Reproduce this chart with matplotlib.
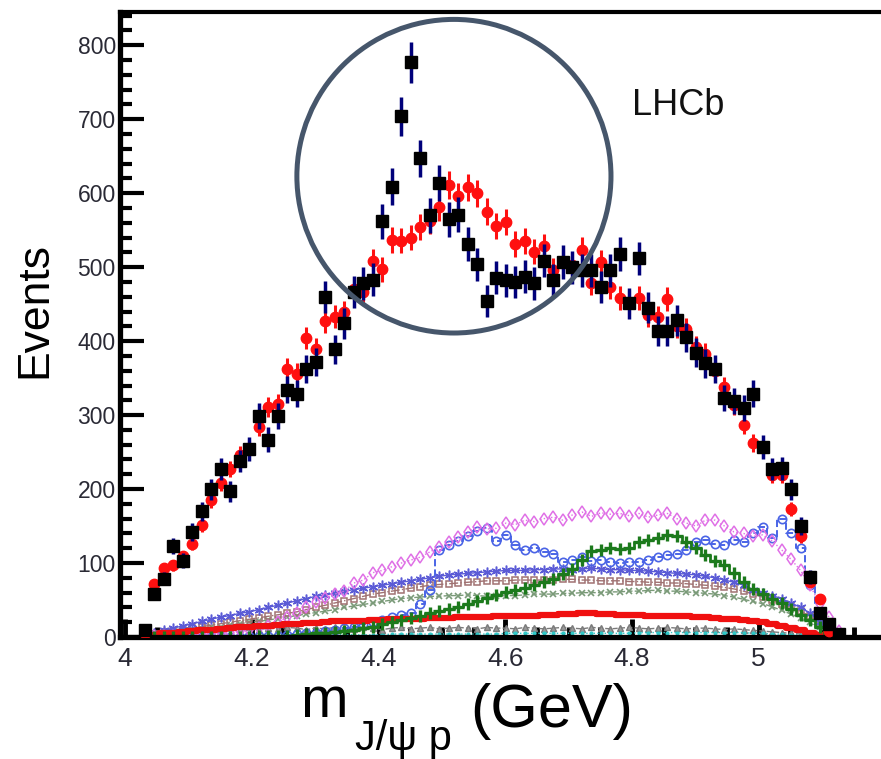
import numpy as np
import matplotlib.pyplot as plt
from matplotlib.patches import Ellipse
from matplotlib.ticker import MultipleLocator

plt.rcParams['font.family'] = ['Liberation Sans', 'DejaVu Sans']

# bin centres, 15 MeV bins
mass = np.round(4.031 + 0.015 * np.arange(74), 3)

# data (black squares)
data = [9, 58, 79, 123, 103, 142, 170, 200, 227, 197,
        238, 254, 299, 267, 299, 334, 329, 362, 372, 460,
        389, 424, 467, 478, 483, 562, 609, 704, 777, 647,
        570, 614, 565, 571, 531, 504, 454, 486, 482, 480,
        487, 478, 509, 482, 507, 500, 496, 496, 473, 496,
        518, 451, 512, 445, 414, 414, 428, 405, 384, 370,
        362, 323, 319, 310, 329, 257, 227, 228, 200, 150,
        81, 33, 18, 4]

# fit without pentaquarks (red points)
fit = [5, 72, 93, 97, 109, 126, 151, 185, 208, 227,
       246, 255, 284, 311, 315, 363, 356, 404, 389, 427,
       433, 439, 471, 467, 508, 497, 537, 536, 540, 554,
       563, 581, 611, 596, 608, 600, 575, 556, 561, 531,
       535, 521, 528, 496, 505, 503, 523, 479, 507, 473,
       458, 452, 458, 435, 432, 457, 420, 416, 392, 383,
       360, 338, 313, 287, 262, 255, 219, 219, 173, 136,
       75, 51, 8, 0]

# fit components
comp_diamond = [0, 1, 1, 2, 2, 3, 3, 4, 5, 6,
                8, 10, 12, 15, 20, 27, 33, 40, 47, 53,
                58, 62, 73, 77, 87, 90, 95, 100, 104, 108,
                115, 122, 128, 135, 142, 149, 146, 147, 154, 152,
                158, 156, 160, 162, 158, 165, 169, 163, 168, 166,
                167, 164, 167, 162, 165, 167, 160, 154, 150, 158,
                158, 150, 142, 140, 136, 138, 130, 118, 105, 90,
                70, 45, 27, 8]
comp_circle = [0, 0, 0, 0, 0, 0, 0, 0, 0, 0,
               0, 1, 1, 2, 2, 3, 4, 5, 6, 8,
               10, 12, 14, 17, 20, 23, 27, 30, 33, 44,
               63, 118, 124, 130, 137, 143, 148, 130, 138, 125,
               118, 120, 115, 112, 101, 104, 108, 103, 104, 101,
               100, 102, 101, 104, 108, 111, 112, 118, 128, 131,
               126, 124, 131, 128, 140, 149, 134, 160, 141, 120,
               70, 30, 8, 0]
comp_star = [3, 6, 9, 12, 15, 18, 21, 24, 27, 29,
             32, 34, 37, 40, 43, 46, 49, 52, 55, 57,
             59, 62, 64, 66, 68, 70, 72, 74, 76, 78,
             80, 82, 84, 85, 86, 87, 88, 89, 90, 90,
             90, 91, 91, 92, 92, 91, 92, 93, 92, 91,
             91, 90, 90, 89, 88, 87, 86, 85, 84, 82,
             80, 77, 74, 70, 64, 60, 56, 52, 46, 40,
             32, 20, 8, 2]
comp_square = [2, 4, 6, 8, 10, 12, 14, 16, 18, 20,
               22, 24, 26, 28, 30, 32, 34, 37, 40, 43,
               46, 49, 52, 55, 58, 60, 62, 64, 66, 68,
               70, 71, 72, 73, 74, 75, 76, 76, 76, 77,
               77, 77, 77, 77, 78, 78, 77, 77, 76, 76,
               76, 75, 75, 74, 74, 73, 73, 72, 71, 70,
               69, 67, 65, 62, 58, 54, 50, 45, 40, 35,
               28, 18, 8, 2]
comp_cross = [2, 3, 5, 6, 8, 9, 11, 13, 14, 16,
              18, 20, 21, 23, 25, 27, 29, 31, 33, 35,
              37, 40, 42, 44, 46, 48, 50, 52, 53, 54,
              55, 55, 56, 56, 57, 56, 55, 55, 56, 56,
              57, 58, 58, 58, 59, 59, 60, 60, 60, 61,
              61, 62, 62, 63, 63, 62, 62, 61, 60, 59,
              58, 56, 54, 51, 48, 45, 41, 36, 31, 26,
              20, 13, 6, 1]
comp_plus = [0, 0, 0, 0, 0, 0, 0, 0, 0, 0,
             0, 0, 1, 1, 2, 2, 3, 4, 5, 6,
             7, 8, 10, 12, 14, 17, 20, 23, 26, 29,
             32, 35, 38, 41, 45, 49, 53, 57, 61, 64,
             66, 70, 75, 79, 85, 92, 104, 116, 118, 120,
             119, 121, 128, 131, 134, 138, 136, 128, 120, 111,
             103, 97, 87, 75, 65, 58, 52, 46, 38, 30,
             23, 14, 6, 1]
comp_red = [1, 3, 5, 6, 7, 8, 9, 10, 11, 12,
            13, 14, 15, 15, 16, 17, 18, 19, 19, 20,
            21, 21, 22, 22, 23, 23, 24, 24, 25, 25,
            26, 26, 26, 27, 27, 27, 27, 28, 28, 28,
            29, 29, 30, 30, 31, 31, 32, 32, 31, 31,
            30, 30, 30, 29, 29, 29, 28, 28, 27, 27,
            26, 25, 24, 23, 22, 20, 18, 15, 12, 9,
            6, 3, 1, 0]
comp_gray = [4, 7, 9, 10, 11, 10, 12, 11, 10, 12,
             11, 13, 10, 12, 11, 13, 12, 10, 12, 11,
             13, 12, 11, 13, 12, 10, 12, 13, 11, 12,
             13, 11, 12, 13, 12, 11, 13, 12, 12, 11,
             13, 12, 11, 12, 13, 12, 11, 13, 12, 11,
             12, 13, 12, 11, 12, 13, 12, 11, 12, 12,
             11, 10, 11, 10, 9, 8, 7, 6, 5, 4,
             3, 2, 1, 0]
comp_cyan = [0, 0, 1, 1, 1, 1, 1, 2, 2, 2,
             2, 2, 2, 2, 2, 3, 3, 3, 3, 3,
             3, 3, 3, 3, 3, 3, 4, 4, 4, 4,
             4, 4, 4, 4, 4, 4, 4, 4, 5, 5,
             5, 5, 5, 5, 5, 5, 5, 5, 5, 5,
             5, 5, 6, 6, 6, 6, 6, 6, 6, 6,
             6, 6, 6, 6, 5, 5, 4, 4, 3, 3,
             2, 1, 0, 0]

fig = plt.figure(figsize=(8.81, 7.59), dpi=100)
ax = fig.add_axes([120 / 881, 122 / 759, 761 / 881, 625 / 759])

# background components
ax.plot(mass, comp_gray, color='#7a7a7a', marker='^', ms=4, lw=1, ls='--', mfc='#9a9a9a')
ax.plot(mass, comp_cyan, color='#30c8c8', marker='.', ms=4, lw=1, ls=':')
ax.plot(mass, comp_cross, color='#7a9a78', marker='x', ms=5, mew=1.2, lw=1, ls='--')
ax.plot(mass, comp_square, color='#a07272', marker='s', ms=4.5, mfc='none', mew=1.1, lw=1, ls='-.')
ax.plot(mass, comp_star, color='#5b5bd6', marker=(6, 2, 0), ms=7, mew=1.1, lw=1, ls='-')
ax.plot(mass, comp_circle, color='#4a64e6', marker='o', ms=6, mfc='none', mew=1.2, lw=1.4, ls='--',
        drawstyle='steps-mid')
ax.plot(mass, comp_diamond, color='#e070e6', marker='d', ms=6, mfc='none', mew=1.1, lw=1, ls=':')
ax.errorbar(mass, comp_plus, yerr=np.sqrt(comp_plus) * 0.4, color='#1c7a1c', marker='+', ms=8,
            mew=2.4, lw=2, ls='-', drawstyle='steps-mid', elinewidth=2, capsize=0)
ax.plot(mass, comp_red, color='#f01010', lw=4.5, drawstyle='steps-mid')

# fit points (red) and data (black)
fit_arr = np.array(fit, dtype=float)
ax.errorbar(mass, fit_arr, yerr=0.75 * np.sqrt(fit_arr), fmt='o', color='#ff1010', ms=7.5,
            ecolor='#ff1010', elinewidth=2.2, capsize=0, zorder=5)
data_arr = np.array(data, dtype=float)
ax.errorbar(mass, data_arr, yerr=np.sqrt(data_arr), fmt='s', color='black', ms=8.5,
            ecolor='#00007a', elinewidth=2.5, capsize=0, zorder=6)

# highlighted circle
ax.add_patch(Ellipse((4.519, 623), 0.4957, 424, fill=False, ec='#46566b', lw=3.6,
                     zorder=7, clip_on=False))

ax.set_xlim(3.992, 5.193)
ax.set_ylim(0, 845)

ax.xaxis.set_major_locator(MultipleLocator(0.2))
ax.xaxis.set_minor_locator(MultipleLocator(0.05))
ax.yaxis.set_major_locator(MultipleLocator(100))
ax.yaxis.set_minor_locator(MultipleLocator(20))
ax.set_xticks([4, 4.2, 4.4, 4.6, 4.8, 5])
ax.set_xticklabels(['4', '4.2', '4.4', '4.6', '4.8', '5'])

ax.tick_params(axis='y', which='major', direction='in', length=17, width=3,
               labelsize=16.5, pad=3, labelcolor='#2a2a35')
ax.tick_params(axis='y', which='minor', direction='in', length=8.5, width=3)
ax.tick_params(axis='x', which='major', direction='in', length=13, width=3.5,
               labelsize=19, pad=7, labelcolor='#2a2a35')
ax.tick_params(axis='x', which='minor', direction='in', length=7, width=3.5)

for side in ['left', 'bottom']:
    ax.spines[side].set_linewidth(3.8)
ax.spines['top'].set_linewidth(3)
ax.spines['right'].set_visible(False)

fig.text(632 / 881, 1 - 115 / 759, 'LHCb', fontsize=26, va='baseline', ha='left', color='#111111')
fig.text(35 / 881, 1 - 310 / 759, 'Events', fontsize=32, rotation=90, ha='center', va='center')
fig.text(300 / 881, 42 / 759, 'm', fontsize=41, ha='left', va='baseline')
fig.text(355 / 881, 9 / 759, 'J/\u03c8 p', fontsize=30, ha='left', va='baseline')
fig.text(470 / 881, 32 / 759, '(GeV)', fontsize=44, ha='left', va='baseline')

fig.savefig('out.png', dpi=100)
